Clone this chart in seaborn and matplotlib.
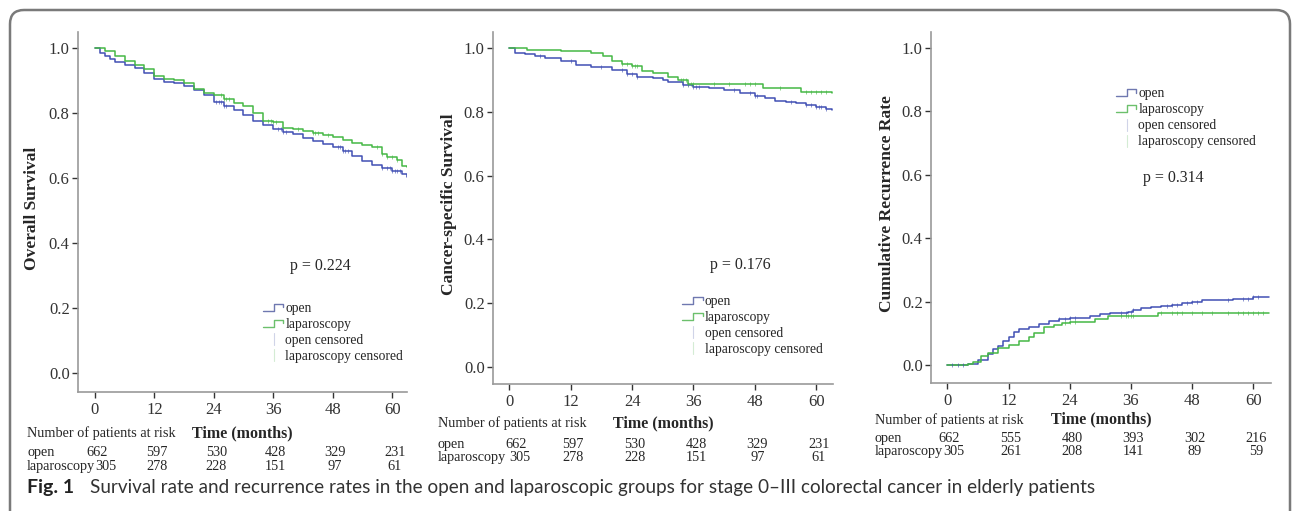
"""
Kaplan-Meier curves: open vs laparoscopy (stage 0-III colorectal cancer, elderly)
Three panels: overall survival, cancer-specific survival, cumulative recurrence.
"""
import numpy as np
import pandas as pd

import matplotlib
matplotlib.use("Agg")
import matplotlib.pyplot as plt
import matplotlib.transforms as mtransforms
from matplotlib.patches import FancyBboxPatch
from matplotlib.lines import Line2D
from matplotlib.legend_handler import HandlerBase
import seaborn as sns

# ════════════════════════════════════════
# Data
# ════════════════════════════════════════
GROUPS = ["open", "laparoscopy"]
COLORS = {"open": "#4150b4", "laparoscopy": "#45b845"}

# Overall survival
os_open_t = [0, 1, 2, 3, 4, 6, 8, 10, 12, 14, 16, 18, 20, 22, 24, 26, 28, 30, 32, 34,
             36, 38, 40, 42, 44, 46, 48, 50, 52, 54, 56, 58, 60, 62, 63]
os_open_s = [1.0, 0.985, 0.975, 0.968, 0.958, 0.947, 0.938, 0.925, 0.905, 0.897, 0.893,
             0.885, 0.872, 0.855, 0.835, 0.822, 0.81, 0.795, 0.775, 0.763, 0.752, 0.743,
             0.735, 0.725, 0.715, 0.705, 0.695, 0.683, 0.668, 0.653, 0.642, 0.632, 0.623,
             0.612, 0.603]
os_lap_t = [0, 1, 2, 4, 6, 8, 10, 12, 14, 16, 18, 20, 22, 24, 26, 28, 30, 32, 34, 36, 38,
            40, 42, 44, 46, 48, 50, 52, 54, 56, 58, 59, 61, 62, 63]
os_lap_s = [1.0, 1.0, 0.99, 0.975, 0.96, 0.948, 0.935, 0.915, 0.905, 0.902, 0.893, 0.875,
            0.862, 0.857, 0.845, 0.83, 0.822, 0.8, 0.775, 0.772, 0.755, 0.752, 0.745, 0.738,
            0.732, 0.726, 0.718, 0.708, 0.703, 0.695, 0.675, 0.665, 0.655, 0.638, 0.635]
os_open_cens = [24.5, 25, 25.5, 26, 26.5, 37, 37.5, 38, 38.5, 49, 49.5, 50, 50.5, 51,
                58, 59, 59.5, 60, 60.5, 61, 61.5]
os_lap_cens = [25.5, 26, 26.5, 27, 35, 35.5, 36, 36.5, 41, 44, 44.5, 45, 47, 57, 58, 59, 60, 61]

# Cancer-specific survival
css_open_t = [0, 1, 3, 5, 7, 10, 13, 16, 20, 23, 25, 28, 30, 31, 34, 36, 39, 42, 45, 48,
              50, 52, 54, 56, 58, 60, 62, 63]
css_open_s = [1.0, 0.985, 0.98, 0.975, 0.968, 0.958, 0.947, 0.94, 0.93, 0.918, 0.91, 0.906,
              0.9, 0.893, 0.884, 0.879, 0.873, 0.868, 0.86, 0.85, 0.843, 0.835, 0.83, 0.826,
              0.82, 0.815, 0.81, 0.805]
css_lap_t = [0, 3.4, 10, 16, 18.3, 20, 22, 24, 26, 28, 31, 33, 35, 49.5, 57, 63]
css_lap_s = [1.0, 0.994, 0.99, 0.985, 0.975, 0.96, 0.95, 0.942, 0.928, 0.92, 0.91, 0.9,
             0.886, 0.875, 0.862, 0.86]
css_open_cens = [6, 12, 18, 22, 23, 24, 25, 34, 35, 36, 36.5, 37, 44, 47, 48, 48.5, 55,
                 58, 59, 60, 60.5, 61, 62]
css_lap_cens = [22, 23, 24, 24.5, 25, 33.5, 34, 34.5, 35, 35.5, 36, 40, 43, 46, 47, 48,
                53, 58, 59, 60, 61, 62]

# Cumulative recurrence
rec_open_t = [0, 4, 6, 8, 9, 10, 11, 12, 13, 14, 16, 18, 20, 22, 24, 26, 28, 30, 32, 34,
              35.5, 36.5, 38, 40, 42, 44, 46, 48, 50, 52, 56, 60, 63]
rec_open_s = [0.0, 0.005, 0.016, 0.035, 0.05, 0.06, 0.075, 0.09, 0.105, 0.115, 0.122, 0.13,
              0.138, 0.146, 0.148, 0.15, 0.155, 0.16, 0.163, 0.165, 0.167, 0.175, 0.18,
              0.183, 0.188, 0.19, 0.195, 0.2, 0.205, 0.207, 0.21, 0.214, 0.214]
rec_lap_t = [0, 4, 5, 6.7, 8, 10, 12, 14, 16, 17, 19, 21, 22.5, 24, 27, 29, 31.6, 41.4, 63]
rec_lap_s = [0.0, 0.003, 0.01, 0.03, 0.04, 0.055, 0.065, 0.075, 0.09, 0.1, 0.12, 0.128,
             0.132, 0.135, 0.137, 0.145, 0.155, 0.165, 0.165]
rec_open_cens = [1, 2, 3, 22, 23, 24, 25, 34, 35, 36, 36.5, 43, 44, 45, 47, 48, 49, 55, 58,
                 59, 60, 61]
rec_lap_cens = [23, 24, 25, 34, 35, 35.5, 36, 36.5, 42, 44, 45, 46, 48, 50, 52, 55, 57,
                58, 59, 60, 61, 62]

# Risk tables
risk_months = [0, 12, 24, 36, 48, 60]
os_risk_open = [662, 597, 530, 428, 329, 231]
os_risk_lap = [305, 278, 228, 151, 97, 61]
css_risk_open = [662, 597, 530, 428, 329, 231]
css_risk_lap = [305, 278, 228, 151, 97, 61]
rec_risk_open = [662, 555, 480, 393, 302, 216]
rec_risk_lap = [305, 261, 208, 141, 89, 59]

y_labels = ["Overall Survival", "Cancer-specific Survival", "Cumulative Recurrence Rate"]
p_values = ["p = 0.224", "p = 0.176", "p = 0.314"]
legend_labels = ["open", "laparoscopy", "open censored", "laparoscopy censored"]
caption_bold = "Fig. 1"
caption_text = ("Survival rate and recurrence rates in the open and laparoscopic groups "
                "for stage 0\u2013III colorectal cancer in elderly patients")

# ════════════════════════════════════════
# Style
# ════════════════════════════════════════
sns.set_style("ticks")
plt.rcParams["font.family"] = ["Liberation Serif", "DejaVu Serif"]
plt.rcParams["axes.edgecolor"] = "#9a9a9a"
plt.rcParams["axes.linewidth"] = 1.2
plt.rcParams["xtick.color"] = "#333333"
plt.rcParams["ytick.color"] = "#333333"

RISK_FS = 10.3


class StepHandler(HandlerBase):
    """Legend handle drawn as a little step (SPSS style)."""

    def create_artists(self, legend, orig_handle, xdescent, ydescent, width, height,
                       fontsize, trans):
        x0 = -xdescent
        xm = x0 + width * 0.55
        x1 = x0 + width
        lo = -ydescent + height * 0.1
        hi = -ydescent + height * 0.85
        line = Line2D([x0, xm, xm, x1, x1], [lo, lo, hi, hi, hi - height * 0.35],
                      color=orig_handle.get_color(), lw=1.0, transform=trans)
        return [line]


class CensorHandler(HandlerBase):
    def create_artists(self, legend, orig_handle, xdescent, ydescent, width, height,
                       fontsize, trans):
        xm = -xdescent + width * 0.55
        line = Line2D([xm, xm], [-ydescent - 1, -ydescent + height + 1],
                      color=orig_handle.get_color(), lw=0.8, transform=trans)
        return [line]


def step_frame(t_open, s_open, t_lap, s_lap):
    return pd.concat([
        pd.DataFrame({"month": t_open, "value": s_open, "group": "open"}),
        pd.DataFrame({"month": t_lap, "value": s_lap, "group": "laparoscopy"}),
    ], ignore_index=True)


def value_at(t, s, c):
    idx = np.searchsorted(np.asarray(t), np.asarray(c), side="right") - 1
    return np.asarray(s)[idx]


fig = plt.figure(figsize=(12.92, 5.11), dpi=100)

# axes rectangles in figure fractions
panel_rects = [
    [0.0604, 0.2329, 0.2546, 0.7045],
    [0.3816, 0.2485, 0.2632, 0.6888],
    [0.7206, 0.2505, 0.2632, 0.6869],
]
xlims = [(-3.4, 63.0), (-3.2, 63.3), (-3.2, 63.5)]
ylims = [(-0.058, 1.05), (-0.054, 1.05), (-0.056, 1.05)]
p_pos = [(45.5, 0.33), (45.1, 0.32), (44.3, 0.59)]
legend_pos = [(0.562, 0.250), (0.556, 0.254), (0.544, 0.842)]
ylabel_x = [-0.116, -0.106, -0.106]
# y positions (axes fraction) of: header line, open row, laparoscopy row
risk_rows = [(-0.114, -0.169, -0.208), (-0.111, -0.173, -0.210), (-0.105, -0.157, -0.194)]
risk_label_x = [-0.155, -0.163, -0.165]
first_col_shift = [0.4, 1.3, 0.4]
lap_gap_px = [0.5, 4.0, 0.5]   # gap between "laparoscopy" and its first count

panels = [
    (os_open_t, os_open_s, os_lap_t, os_lap_s, os_open_cens, os_lap_cens, os_risk_open, os_risk_lap),
    (css_open_t, css_open_s, css_lap_t, css_lap_s, css_open_cens, css_lap_cens, css_risk_open, css_risk_lap),
    (rec_open_t, rec_open_s, rec_lap_t, rec_lap_s, rec_open_cens, rec_lap_cens, rec_risk_open, rec_risk_lap),
]

pending = []  # (ax, label text, first lap number, gap) to align after a draw

for i, (t_o, s_o, t_l, s_l, c_o, c_l, r_o, r_l) in enumerate(panels):
    ax = fig.add_axes(panel_rects[i])
    df = step_frame(t_o, s_o, t_l, s_l)
    sns.lineplot(data=df, x="month", y="value", hue="group", palette=COLORS,
                 estimator=None, sort=False, drawstyle="steps-post", linewidth=1.1,
                 legend=False, ax=ax)

    # censoring ticks
    ax.plot(c_o, value_at(t_o, s_o, c_o), linestyle="none", marker="|", ms=3,
            mew=0.6, color=COLORS["open"], alpha=0.7)
    ax.plot(c_l, value_at(t_l, s_l, c_l), linestyle="none", marker="|", ms=3,
            mew=0.6, color=COLORS["laparoscopy"], alpha=0.7)

    ax.set_xlim(*xlims[i])
    ax.set_ylim(*ylims[i])
    ax.set_xticks(risk_months)
    ax.set_yticks([0.0, 0.2, 0.4, 0.6, 0.8, 1.0])
    ax.yaxis.set_major_formatter(matplotlib.ticker.FormatStrFormatter("%.1f"))
    ax.tick_params(axis="both", labelsize=12, length=4, width=1.0, pad=2)
    ax.tick_params(axis="x", pad=3)
    sns.despine(ax=ax)

    ax.set_ylabel(y_labels[i], fontsize=12.5, fontweight="bold")
    ax.yaxis.set_label_coords(ylabel_x[i], 0.51)
    ax.set_xlabel("Time (months)", fontsize=11.5, fontweight="bold")
    ax.xaxis.label.set_va("center")
    ax.xaxis.set_label_coords(0.5, risk_rows[i][0])

    ax.text(*p_pos[i], p_values[i], fontsize=11.5, ha="center", va="center")

    # legend
    h_open = Line2D([], [], color="#6f78b0")
    h_lap = Line2D([], [], color="#6cc06c")
    h_oc = Line2D([], [], color="#d0d4e8")
    h_lc = Line2D([], [], color="#d4ecd4")
    ax.legend([h_open, h_lap, h_oc, h_lc], legend_labels,
              handler_map={h_open: StepHandler(), h_lap: StepHandler(),
                           h_oc: CensorHandler(), h_lc: CensorHandler()},
              loc="upper left", bbox_to_anchor=legend_pos[i], frameon=False,
              fontsize=9.8, handlelength=1.5, handletextpad=0.15, labelspacing=0.22,
              borderpad=0, borderaxespad=0)

    # number at risk table
    tr = ax.get_xaxis_transform()
    hdr_y, open_y, lap_y = risk_rows[i]
    ax.text(risk_label_x[i], hdr_y, "Number of patients at risk", transform=ax.transAxes,
            fontsize=RISK_FS, ha="left", va="center")
    ax.text(risk_label_x[i], open_y, "open", transform=ax.transAxes,
            fontsize=RISK_FS, ha="left", va="center")
    lap_label = ax.text(risk_label_x[i], lap_y, "laparoscopy", transform=ax.transAxes,
                        fontsize=RISK_FS, ha="left", va="center")
    for k, (m, n_o, n_l) in enumerate(zip(risk_months, r_o, r_l)):
        dx = first_col_shift[i] if k == 0 else 0.5
        ax.text(m + dx, open_y, str(n_o), transform=tr, fontsize=RISK_FS,
                ha="center", va="center")
        num = ax.text(m + dx, lap_y, str(n_l), transform=tr, fontsize=RISK_FS,
                      ha="center", va="center")
        if k == 0:
            pending.append((ax, lap_label, num, lap_gap_px[i]))

# first laparoscopy count sits right after its row label (as in the original)
fig.canvas.draw()
renderer = fig.canvas.get_renderer()
for ax, lab, num, gap in pending:
    x_end = lab.get_window_extent(renderer).x1 + gap
    x_data = ax.transData.inverted().transform((x_end, 0))[0]
    num.set_x(x_data)
    num.set_ha("left")

# rounded outer frame (pixel coordinates)
frame = FancyBboxPatch((10, -40), 1280, 541, boxstyle="round,pad=0,rounding_size=14",
                       transform=mtransforms.IdentityTransform(), fill=False,
                       edgecolor="#7a7a7a", linewidth=1.8)
fig.add_artist(frame)

# caption
fig.text(27 / 1292, 1 - 487 / 511, caption_bold, fontsize=14, fontweight="bold",
         family=["Lato", "DejaVu Sans"], color="#222222", ha="left", va="center")
fig.text(90 / 1292, 1 - 487 / 511, caption_text, fontsize=13.6,
         family=["Lato", "DejaVu Sans"], color="#333333", ha="left", va="center")

fig.savefig("out.png", dpi=100)
